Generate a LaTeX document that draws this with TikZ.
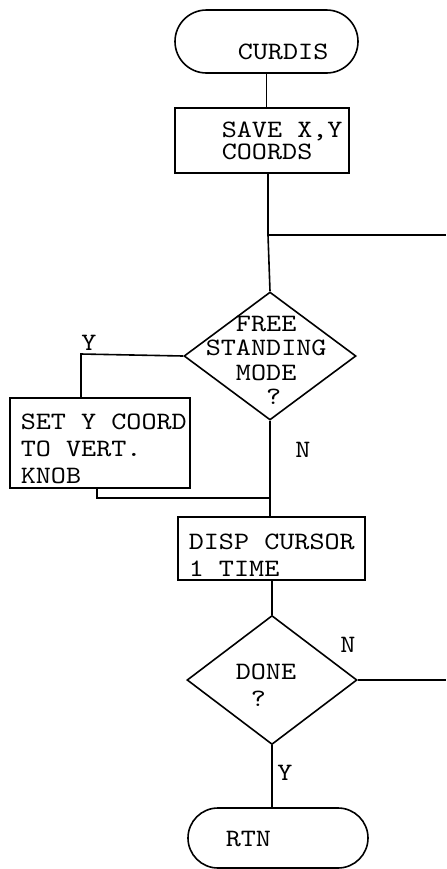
\documentclass[tikz,border=0pt]{standalone}
\usepackage{fontspec}
\setmonofont[FakeStretch=1.15]{lmmono10-regular.otf}
\usetikzlibrary{shapes.geometric,shapes.misc}
\tikzset{
  flow/.style={draw, line width=0.8pt, inner sep=0pt},
  termbox/.style={flow, rounded rectangle},
  procbox/.style={flow, rectangle},
  testbox/.style={flow, diamond},
  txt/.style={font=\ttfamily\fontsize{12.5}{13.5}\selectfont, align=left, inner sep=0pt, anchor=north west},
  lbl/.style={font=\ttfamily\fontsize{12.5}{13.5}\selectfont, inner sep=0pt}
}
\begin{document}
\begin{tikzpicture}[x=0.5pt, y=-0.5pt, line width=0.8pt]
\useasboundingbox (0, 0) rectangle (446, 869);
  % shapes
  \node [termbox, minimum width=91.5pt, minimum height=31.5pt] (curdis) at (266.5, 41.5) {};
  \node [procbox, minimum width=87pt, minimum height=32.5pt] (save) at (262, 140.5) {};
  \node [testbox, minimum width=86pt, minimum height=64pt] (free) at (270, 356) {};
  \node [procbox, minimum width=90pt, minimum height=45pt] (setv) at (100, 443) {};
  \node [procbox, minimum width=93.5pt, minimum height=31.5pt] (disp) at (271.5, 548.5) {};
  \node [testbox, minimum width=85pt, minimum height=64.5pt] (done) at (272, 680) {};
  \node [termbox, minimum width=90pt, minimum height=30pt] (rtn) at (278, 838) {};
  % texts
  \node [txt] (curdis-t) at (237, 43) {CURDIS};
  \node [txt, font=\ttfamily\fontsize{12.5}{11.3}\selectfont] (save-t) at (221, 121) {SAVE X,Y\\COORDS};
  \node [txt, font=\ttfamily\fontsize{12.5}{12.2}\selectfont] (free-t) at (205, 315)
    {\phantom{ST}FREE\\STANDING\\\phantom{ST}MODE\\\phantom{STAN}?};
  \node [txt] (setv-t) at (20, 413) {SET Y COORD\\TO VERT.\\KNOB};
  \node [txt] (disp-t) at (188, 533) {DISP CURSOR\\1 TIME};
  \node [txt] (done-t) at (235, 663) {DONE\\\phantom{D}?};
  \node [txt] (rtn-t) at (225, 830) {RTN};
  % connectors
  \coordinate (e1) at (446, 235);
  \coordinate (j1) at (268, 235);
  \coordinate (yturn) at (81, 354);
  \coordinate (setout) at (97, 498);
  \draw (curdis.south) to (curdis.south |- save.north);
  \draw (j1 |- save.south) to (j1) to (free.north);
  \draw (j1) to (e1);
  \draw (free.west) to (yturn) to (yturn |- setv.north);
  \node [lbl] (ylab1) at (89, 343) {Y};
  \draw (setout |- setv.south) to (setout) to (setout -| free.south);
  \draw (free.south) to (free.south |- disp.north);
  \node [lbl] (nlab1) at (303, 450) {N};
  \draw (done.north |- disp.south) to (done.north);
  \draw (done.east) to (done.east -| e1);
  \node [lbl] (nlab2) at (348, 645) {N};
  \draw (done.south) to (done.south |- rtn.north);
  \node [lbl] (ylab2) at (285, 773) {Y};
\end{tikzpicture}
\end{document}
